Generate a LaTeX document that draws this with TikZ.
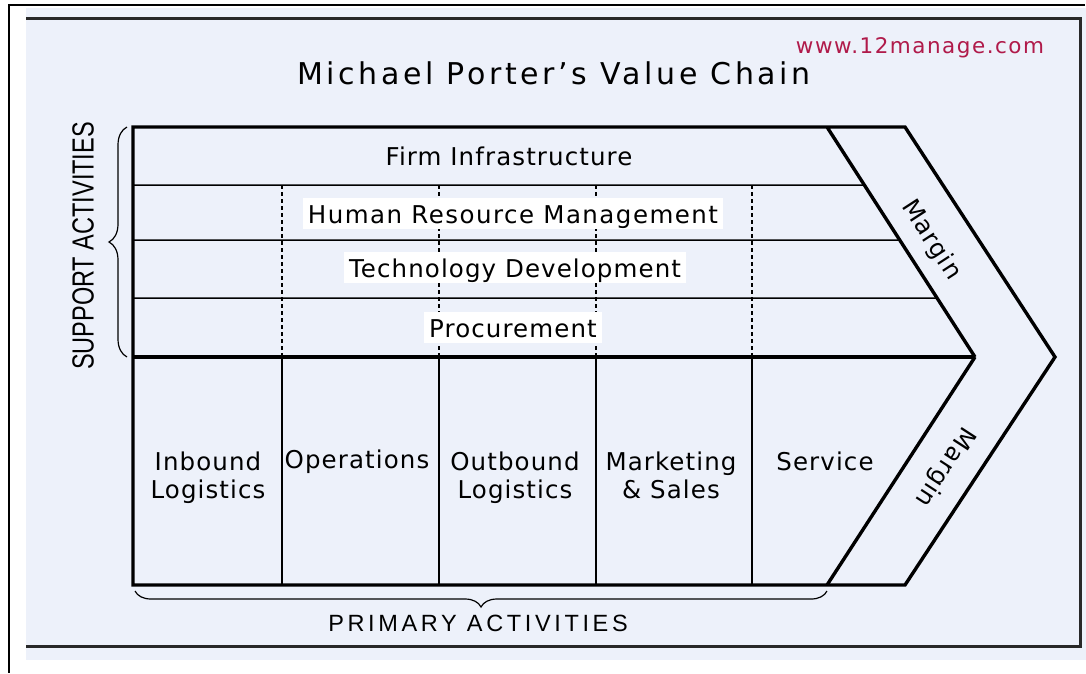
\documentclass[tikz,border=0pt]{standalone}
\usepackage{fontspec}
\setmainfont{DejaVu Sans}
\newfontfamily\labf[LetterSpace=4.5]{DejaVu Sans}
\newfontfamily\hrmf[LetterSpace=6]{DejaVu Sans}
\newfontfamily\urlf[LetterSpace=7]{DejaVu Sans}
\newfontfamily\titf[LetterSpace=12]{DejaVu Sans}
\newfontfamily\capf[LetterSpace=15.5]{Liberation Sans}
\newfontfamily\capsf{Liberation Sans}
\usetikzlibrary{decorations.pathreplacing,calc}
\definecolor{panel}{RGB}{237,241,250}
\definecolor{urlred}{RGB}{176,26,74}
\definecolor{framec}{RGB}{40,40,40}
\begin{document}
\begin{tikzpicture}[x=1pt,y=-1pt,
  outline/.style={line width=3.4pt, line join=miter},
  sep/.style={line width=1.5pt},
  dsep/.style={line width=1.4pt, dash pattern=on 4pt off 3pt},
  lab/.style={font=\labf\fontsize{24.5}{28}\selectfont, align=center, inner sep=0pt},
  wlab/.style={lab, fill=white, inner xsep=5pt, text height=21pt, text depth=2pt, inner ysep=4pt},
  brc/.style={line width=1.2pt, decorate},
  capt/.style={font=\capf\fontsize{23.5}{26}\selectfont, inner sep=0pt}
]
\useasboundingbox (0,0) rectangle (1086,673);
\fill[white] (0,0) rectangle (1086,673);
\fill[panel] (26,8) rectangle (1086,660);
\draw[line width=2pt] (8,5) -- (1085,5);
\draw[line width=2.5pt] (9,4) -- (9,673);
\draw[framec, line width=3pt] (26,18) -- (1080,18) -- (1080,646) -- (26,646);

% key points
\coordinate (TL) at (133,127);
\coordinate (IT) at (827,127);
\coordinate (OT) at (905,127);
\coordinate (IV) at (975,357);
\coordinate (OV) at (1055,357);
\coordinate (IB) at (827,585);
\coordinate (OB) at (905,585);
\coordinate (BL) at (133,585);
\coordinate (ML) at (133,357);

% support rows
\foreach \yy in {185,240,298}{
  \draw[sep] (133,\yy) -- ($(IT)!{(\yy-127)/230}!(IV)$);
}
% dashed separators in support, solid in primary
\foreach \xx in {282,439,596,752}{
  \draw[dsep] (\xx,185) -- (\xx,357);
  \draw[sep] (\xx,357) -- (\xx,585);
}
% outline
\draw[outline] (IV) -- (IT) -- (TL) -- (BL) -- (OB) -- (OV) -- (OT) -- (IT);
\draw[outline] (IV) -- (IB);
\draw[outline] (ML) -- (IV);

% support labels
\node[lab] (fi) at (509,156) {Firm Infrastructure};
\node[wlab, font=\hrmf\fontsize{24.5}{28}\selectfont] (hrm) at (513,213.5) {Human Resource Management};
\node[wlab] (td) at (515,267.5) {Technology Development};
\node[wlab] (pr) at (513,327.5) {Procurement};

% primary labels
\node[lab] (il) at (208,478) {Inbound\\Logistics};
\node[lab] (op) at (357,462) {Operations};
\node[lab] (ol) at (515,478) {Outbound\\Logistics};
\node[lab] (ms) at (671,475) {Marketing\\\& Sales};
\node[lab] (sv) at (825,461.5) {Service};

% margin
\node[lab, rotate=-57] (m1) at (931,240) {Margin};
\node[lab, rotate=-123] (m2) at (945,467) {Margin};

% title and url
\node[font=\titf\fontsize{30}{34}\selectfont, inner sep=0pt] (title) at (554,73) {Michael Porter’s Value Chain};
\node[font=\urlf\fontsize{21.5}{24}\selectfont, text=urlred, inner sep=0pt] (url) at (920,48) {www.12manage.com};

% braces and captions
\draw[brc, decoration={brace, amplitude=18pt}] (127,357) -- (127,127);
\draw[brc, decoration={brace, amplitude=16pt}] (827,591) -- (135,591);
\node[font=\capsf\fontsize{23.5}{26}\selectfont, inner sep=0pt, rotate=90] (sa) at (83,246) {\scalebox{1}[1.3]{SUPPORT ACTIVITIES}};
\node[capt] (pa) at (478,623) {PRIMARY ACTIVITIES};
\end{tikzpicture}
\end{document}
